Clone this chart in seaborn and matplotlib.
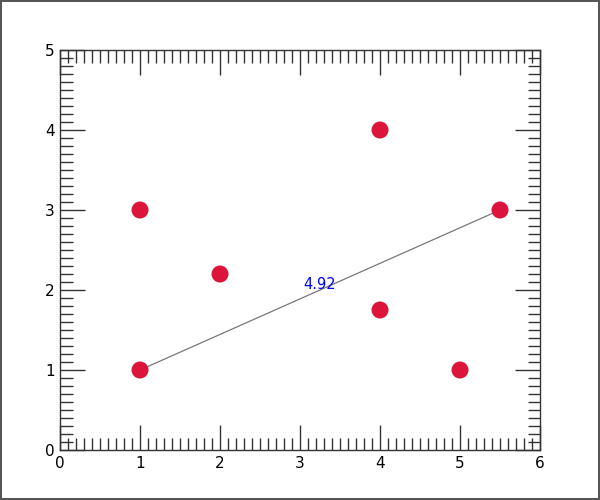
import matplotlib
matplotlib.use("Agg")
import matplotlib.pyplot as plt
import seaborn as sns
import numpy as np
import pandas as pd
from matplotlib.ticker import MultipleLocator

sns.set_style("white")
plt.rcParams['font.family'] = ['DejaVu Sans']

xs = [1, 1, 2, 4, 4, 5, 5.5]
ys = [3, 1, 2.2, 4, 1.75, 1, 3]
line_x = [1, 5.5]
line_y = [1, 3]
dist_label = "4.92"
x_ticks = [0, 1, 2, 3, 4, 5, 6]
y_ticks = [0, 1, 2, 3, 4, 5]

df = pd.DataFrame({"x": xs, "y": ys})

fig = plt.figure(figsize=(6, 5), dpi=100)
fig.patch.set_edgecolor("#555555")
fig.patch.set_linewidth(1.5)
ax = fig.add_axes([0.1, 0.1, 0.8, 0.8])

sns.lineplot(x=line_x, y=line_y, ax=ax, color="#777777", linewidth=0.9, zorder=1)
sns.scatterplot(data=df, x="x", y="y", ax=ax, s=150, color="#DC143C", edgecolor="none", zorder=3)
ax.text(np.mean(line_x), np.mean(line_y) - 0.02, dist_label, color="blue", fontsize=10.5,
        ha="center", va="bottom")

ax.set_xlim(0, 6)
ax.set_ylim(0, 5)
ax.set_xticks(x_ticks)
ax.set_yticks(y_ticks)
ax.xaxis.set_minor_locator(MultipleLocator(0.1))
ax.yaxis.set_minor_locator(MultipleLocator(0.1))
ax.tick_params(which="both", direction="in", top=True, right=True, bottom=True, left=True,
               color="#333333", width=1)
ax.tick_params(which="major", length=18, labelsize=11, pad=4, labelcolor="black")
ax.tick_params(which="minor", length=9)
ax.set_xlabel("")
ax.set_ylabel("")
for s in ax.spines.values():
    s.set_color("#333333")
    s.set_linewidth(1)

fig.savefig("out.png", dpi=100, edgecolor=fig.get_edgecolor())
